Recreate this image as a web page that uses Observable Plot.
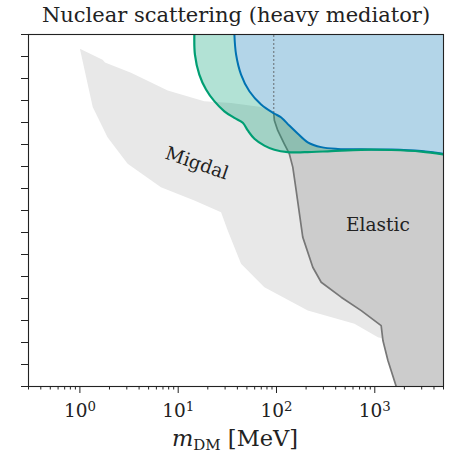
<!DOCTYPE html>
<html>
<head>
<meta charset="utf-8">
<script src="https://cdn.jsdelivr.net/npm/d3@7"></script>
<script src="https://cdn.jsdelivr.net/npm/@observablehq/plot@0.6"></script>
<style>
  html, body { margin: 0; padding: 0; background: #fff; }
  #chart svg { display: block; }
</style>
</head>
<body>
<div id="chart"></div>
<script>
// ---- text -----------------------------------------------------------------
const titleText = "Nuclear scattering (heavy mediator)";
const migdalLabel = "Migdal";
const elasticLabel = "Elastic";

// ---- axes -----------------------------------------------------------------
const xDomain = [0.3, 5000];          // DM mass [MeV]
const yDomain = [-44, -28];           // log10 of the cross section
const majorTicks = [1, 10, 100, 1000];
const minorTicks = [0.3, 0.4, 0.5, 0.6, 0.7, 0.8, 0.9,
                    2, 3, 4, 5, 6, 7, 8, 9,
                    20, 30, 40, 50, 60, 70, 80, 90,
                    200, 300, 400, 500, 600, 700, 800, 900,
                    2000, 3000, 4000, 5000];
const yTicks = [-44, -43, -42, -41, -40, -39, -38, -37, -36, -35, -34, -33, -32, -31, -30, -29, -28];

// ---- Migdal region (closed outline) ---------------------------------------
const migdalMass      = [1.0, 1.70, 1.80, 3.31, 7.82, 18.4, 34.5, 69.7, 93.8, 125, 225, 1469,
                         1210, 1076, 621, 208, 75.3, 43.6, 31.9, 27.3, 14.6, 6.68, 3.06, 1.91, 1.35];
const migdalLogSigma  = [-28.65, -29.15, -29.27, -29.74, -30.55, -31.03, -31.11, -31.30, -31.58, -32.59, -35.55, -41.45,
                         -41.82, -41.76, -41.15, -40.55, -39.49, -38.42, -36.91, -36.08, -35.55, -34.94, -33.88, -32.67, -31.30];

// ---- Elastic boundary -----------------------------------------------------
const elasticMass     = [93.8, 95.2, 103, 120, 135, 146.5, 158.5, 185, 234, 285, 455, 728, 1161, 1210, 1360, 1652];
const elasticLogSigma = [-31.58, -31.91, -32.36, -32.97, -33.42, -34.03, -35.09, -37.21, -38.58, -39.26,
                         -39.94, -40.55, -41.23, -41.91, -42.82, -44.0];

// ---- blue bound -----------------------------------------------------------
const blueMass        = [37.3, 38.8, 43.6, 53.0, 69.7, 93.8, 111, 135, 165, 208, 285, 421, 727, 1469, 2970, 5000];
const blueLogSigma    = [-28, -28.91, -29.82, -30.58, -31.18, -31.58, -31.76, -32.14, -32.51, -32.90,
                         -33.12, -33.20, -33.22, -33.23, -33.30, -33.42];

// ---- green bound ----------------------------------------------------------
const greenMass       = [14.6, 14.8, 16.4, 19.2, 23.3, 29.5, 37.3, 45.4, 51.0, 59.6, 75.3, 95.2,
                         130, 192, 360, 727, 1469, 2970, 5000];
const greenLogSigma   = [-28, -28.91, -29.82, -30.5, -31.03, -31.49, -31.79, -32.01, -32.36, -32.74,
                         -33.05, -33.24, -33.35, -33.35, -33.30, -33.24, -33.25, -33.32, -33.45];

// ---- reference mass (dotted marker) and label anchors ---------------------
const thresholdMass = 93.8;
const migdalLabelAt  = {m: 15.5, s: -33.86};
const elasticLabelAt = {m: 1076, s: -36.68};

// ---- colours --------------------------------------------------------------
const migdalFill  = "#e8e8e8";
const elasticFill = "#cccccc";
const elasticLine = "#777777";
const greenLine   = "#009e73";
const blueLine    = "#0072b2";
const blueFill    = "#b3d5e8";   // #0072b2 at 30% on white

// ---- tables ---------------------------------------------------------------
const pts = (ms, ss) => ms.map((m, i) => ({m, s: ss[i]}));
const migdal  = pts(migdalMass, migdalLogSigma);
const elastic = pts(elasticMass, elasticLogSigma);
const blue    = pts(blueMass, blueLogSigma);
const green   = pts(greenMass, greenLogSigma);
const elasticShape = [...elastic,
  {m: xDomain[1], s: yDomain[0]},
  {m: xDomain[1], s: elasticLogSigma[0]}];
const yTop = yDomain[1];

const serif = "DejaVu Serif";

const chart = Plot.plot({
  width: 462,
  height: 462,
  marginTop: 34,
  marginLeft: 28,
  marginRight: 19,
  marginBottom: 76,
  style: {fontFamily: serif, color: "#222", background: "#fff"},
  x: {type: "log", domain: xDomain, label: null},
  y: {type: "linear", domain: yDomain, label: null},
  marks: [
    Plot.line(migdal, {x: "m", y: "s", fill: migdalFill, stroke: "none", curve: "linear-closed", clip: true}),
    Plot.line(elasticShape, {x: "m", y: "s", fill: elasticFill, stroke: "none", curve: "linear-closed", clip: true}),
    Plot.line(elastic, {x: "m", y: "s", stroke: elasticLine, strokeWidth: 1.7, clip: true}),
    Plot.areaY(green, {x: "m", y1: "s", y2: () => yTop, fill: greenLine, fillOpacity: 0.3, curve: "catmull-rom", clip: true}),
    Plot.areaY(blue, {x: "m", y1: "s", y2: () => yTop, fill: blueFill, curve: "catmull-rom", clip: true}),
    Plot.ruleX([thresholdMass], {y1: elasticLogSigma[0], y2: yTop, stroke: "#555", strokeWidth: 1.1, strokeDasharray: "1.5,2.5"}),
    Plot.line(blue, {x: "m", y: "s", stroke: blueLine, strokeWidth: 2, curve: "catmull-rom", clip: true}),
    Plot.line(green, {x: "m", y: "s", stroke: greenLine, strokeWidth: 2.2, curve: "catmull-rom", clip: true}),
    Plot.text([migdalLabel], {x: () => migdalLabelAt.m, y: () => migdalLabelAt.s, text: d => d, rotate: 19,
      fontSize: 18.5, fill: "#222", fontFamily: serif}),
    Plot.text([elasticLabel], {x: () => elasticLabelAt.m, y: () => elasticLabelAt.s, text: d => d,
      fontSize: 18.5, fill: "#222", fontFamily: serif}),
    Plot.frame({stroke: "#222", strokeWidth: 1.1}),
    Plot.axisY(yTicks, {tickSize: 7, tickFormat: () => "", label: null, stroke: "#222"}),
    Plot.axisX(minorTicks, {tickSize: 3.5, tickFormat: () => "", label: null, stroke: "#222"}),
    Plot.axisX(majorTicks, {tickSize: 7, tickPadding: 10, fontSize: 18.5, label: null, stroke: "#222",
      tickFormat: d => `10^${Math.round(Math.log10(d))}`})
  ]
});

// Powers of ten as "10" with a raised exponent
chart.querySelectorAll("text").forEach(t => {
  const match = /^10\^(-?\d+)$/.exec(t.textContent);
  if (!match) return;
  t.textContent = "";
  const base = document.createElementNS("http://www.w3.org/2000/svg", "tspan");
  base.textContent = "10";
  const exp = document.createElementNS("http://www.w3.org/2000/svg", "tspan");
  exp.textContent = match[1];
  exp.setAttribute("dy", "-0.45em");
  exp.setAttribute("font-size", "72%");
  t.append(base, exp);
});

const svg = d3.select(chart);
svg.append("text")
  .attr("x", 236).attr("y", 22)
  .attr("text-anchor", "middle")
  .attr("font-family", serif).attr("font-size", 21).attr("fill", "#222")
  .text(titleText);

const xl = svg.append("text")
  .attr("x", 235).attr("y", 446)
  .attr("text-anchor", "middle")
  .attr("font-family", serif).attr("font-size", 22.5).attr("fill", "#222");
xl.append("tspan").attr("font-style", "italic").text("m");
xl.append("tspan").attr("font-size", 15).attr("dy", 4).text("DM");
xl.append("tspan").attr("dy", -4).text(" [MeV]");

document.getElementById("chart").append(chart);
</script>
</body>
</html>
